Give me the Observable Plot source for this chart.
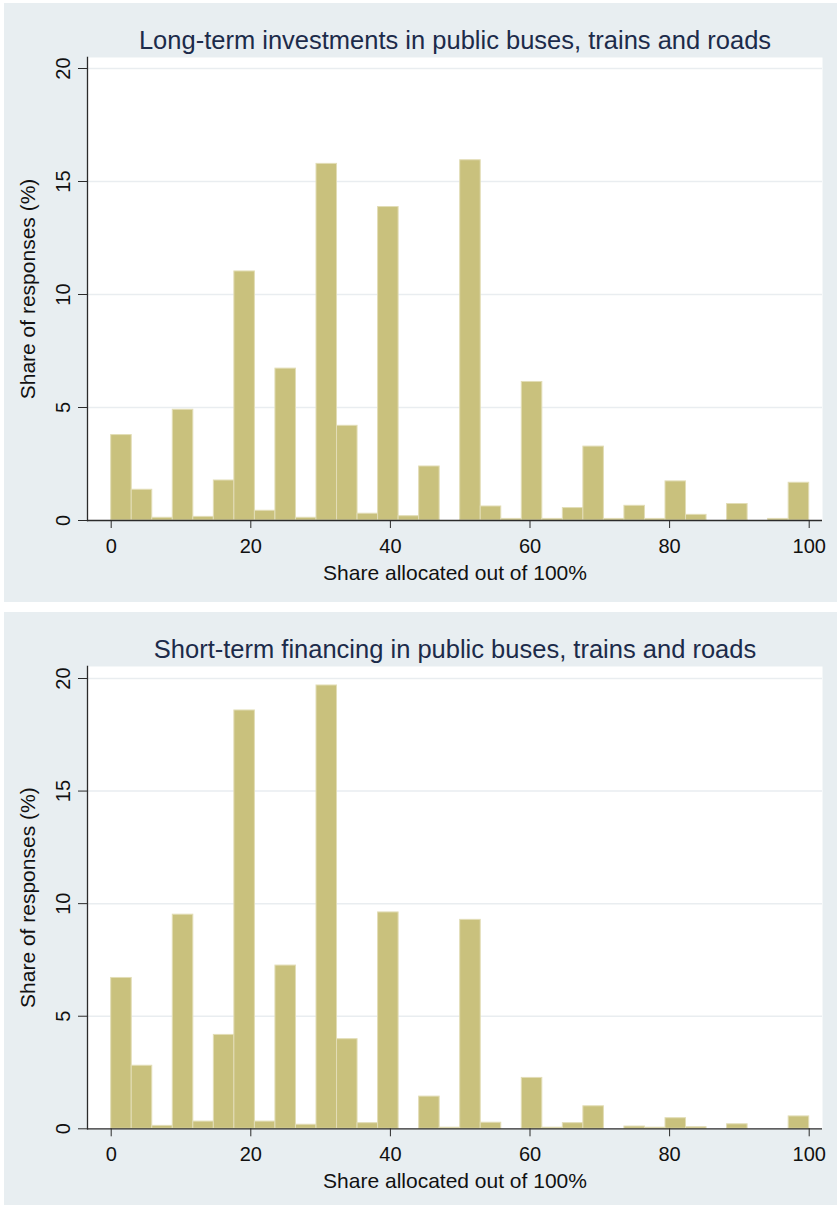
<!DOCTYPE html>
<html>
<head>
<meta charset="utf-8">
<script src="https://cdn.jsdelivr.net/npm/d3@7"></script>
<script src="https://cdn.jsdelivr.net/npm/@observablehq/plot@0.6"></script>
<style>
  html, body { margin: 0; padding: 0; background: #ffffff; }
  #wrap { position: relative; width: 837px; height: 1205px; overflow: hidden; }
  .panel { position: absolute; left: 4px; width: 833px; background: #e8eef1; }
  #p1 { top: 3px; height: 599px; }
  #p2 { top: 612px; height: 593px; }
  .panel svg { display: block; }
</style>
</head>
<body>
<div id="wrap">
  <div class="panel" id="p1"></div>
  <div class="panel" id="p2"></div>
</div>
<script>
// Histogram of allocations (0–100%), 34 equal-width bins
const binCount = 34;
const xTicks = [0, 20, 40, 60, 80, 100];
const yTicks = [0, 5, 10, 15, 20];
const xLabel = "Share allocated out of 100%";
const yLabel = "Share of responses (%)";

const longTermTitle = "Long-term investments in public buses, trains and roads";
const shortTermTitle = "Short-term financing in public buses, trains and roads";

// Percent of responses per bin
const longTermPct = [
  3.78, 1.36, 0.12, 4.90, 0.16, 1.77, 11.02, 0.43, 6.72, 0.12,
  15.78, 4.19, 0.30, 13.87, 0.19, 2.39, 0, 15.94, 0.62, 0.07,
  6.13, 0.07, 0.55, 3.27, 0.07, 0.65, 0.07, 1.73, 0.25, 0,
  0.73, 0, 0.07, 1.67
];
const shortTermPct = [
  6.70, 2.80, 0.13, 9.51, 0.32, 4.17, 18.58, 0.32, 7.25, 0.18,
  19.69, 3.98, 0.25, 9.61, 0, 1.43, 0.05, 9.28, 0.27, 0,
  2.26, 0.05, 0.25, 1.00, 0, 0.10, 0.05, 0.47, 0.07, 0,
  0.20, 0, 0, 0.55
];

const FONT = "'Liberation Sans', Arial, Helvetica, sans-serif";

function histogramPanel(title, pct, height, marginBottom, insetTop) {
  const w = 100 / binCount;
  const bins = pct.map((v, i) => ({x1: i * w, x2: (i + 1) * w, pct: v}));
  return Plot.plot({
    width: 833,
    height,
    marginLeft: 83,
    marginRight: 15,
    marginTop: 54,
    marginBottom,
    x: {domain: [0, 100], insetLeft: 23.7, insetRight: 13.3},
    y: {domain: [0, 20], insetTop},
    style: {background: "transparent", fontFamily: FONT, overflow: "visible"},
    marks: [
      Plot.frame({fill: "#ffffff", stroke: null}),
      Plot.ruleY(yTicks.filter((d) => d > 0), {stroke: "#e9edf0", strokeWidth: 1.5}),
      Plot.rectY(bins, {
        x1: "x1", x2: "x2", y: "pct",
        fill: "#c9c17d", stroke: "#e2ddb6", strokeWidth: 1
      }),
      // axis lines
      Plot.frame({anchor: "left", stroke: "#2b2b2b", strokeWidth: 1.3}),
      Plot.ruleY([0], {stroke: "#2b2b2b", strokeWidth: 1.3}),
      // ticks and labels
      Plot.axisX({
        ticks: xTicks, tickSize: 8, tickPadding: 10, fontSize: 20,
        label: null, stroke: "#2b2b2b", color: "#111111", tickFormat: (d) => String(d)
      }),
      Plot.axisY({
        ticks: yTicks, tickSize: 9, label: null, stroke: "#2b2b2b",
        tickFormat: () => ""
      }),
      Plot.text(yTicks, {
        y: (d) => d, text: (d) => String(d), frameAnchor: "left",
        rotate: -90, dx: -24, fontSize: 20, fill: "#111111",
        textAnchor: "middle", lineAnchor: "middle"
      }),
      Plot.text([yLabel], {
        text: (d) => d, frameAnchor: "left", rotate: -90, dx: -59,
        fontSize: 21, fill: "#111111", textAnchor: "middle", lineAnchor: "middle"
      }),
      Plot.text([xLabel], {
        text: (d) => d, frameAnchor: "bottom", dy: 52.5,
        fontSize: 21, fill: "#111111", lineAnchor: "middle"
      }),
      Plot.text([title], {
        text: (d) => d, frameAnchor: "top", dy: -17,
        fontSize: 25.5, fill: "#1c2b4a", lineAnchor: "middle"
      })
    ]
  });
}

document.getElementById("p1").append(histogramPanel(longTermTitle, longTermPct, 599, 82, 11));
document.getElementById("p2").append(histogramPanel(shortTermTitle, shortTermPct, 593, 76.7, 12));
</script>
</body>
</html>
